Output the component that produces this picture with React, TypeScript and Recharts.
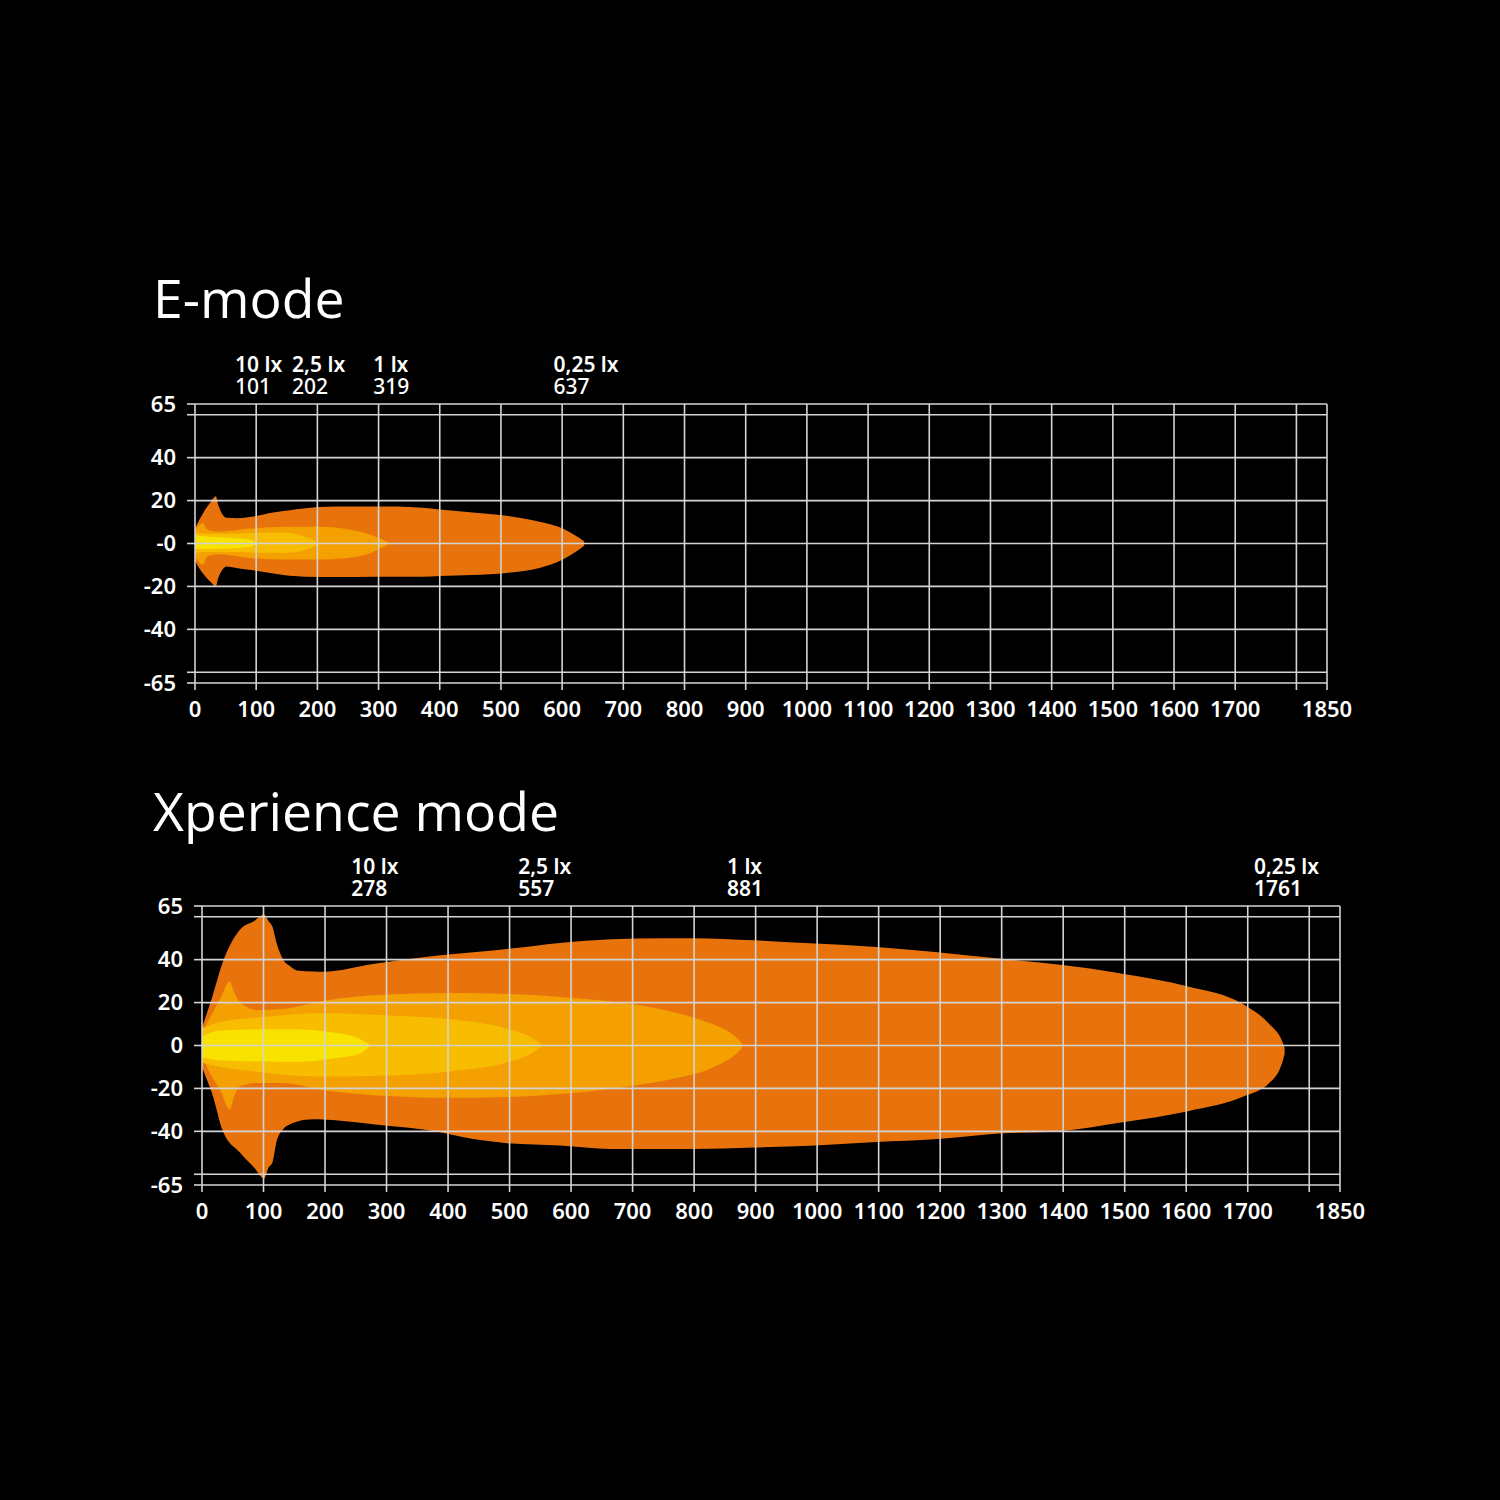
import React from "react"
import { ComposedChart, Area, XAxis, YAxis, CartesianGrid, ReferenceLine } from "recharts"

// each band row: distance (m), lower edge, upper edge (m)
type Band = [number, number, number][]

const xTicks = [0, 100, 200, 300, 400, 500, 600, 700, 800, 900, 1000, 1100, 1200, 1300, 1400, 1500, 1600, 1700, 1800, 1850]
const yTicks = [-65, -60, -40, -20, 0, 20, 40, 60, 65]
const unlabeledX = [1800]
const unlabeledY = [-60, 60]

const luxLabels = ["10 lx", "2,5 lx", "1 lx", "0,25 lx"]
const eModeReach = [101, 202, 319, 637]
const xpModeReach = [278, 557, 881, 1761]

// E-mode isolux bands
const eOuter: Band = [
    [0, -8, 7], [8, -12, 11.5], [16, -15, 15.5], [26, -18, 19.5], [34, -20, 22], [38, -16, 18],
    [43, -13, 14.5], [52, -10.7, 12], [70, -11.5, 11.8], [92, -12.4, 12.5], [128, -14, 14.5],
    [155, -15, 15.5], [204, -15.6, 17], [260, -15.6, 17.2], [331, -15.5, 17.2], [372, -15.5, 16.6],
    [400, -15.2, 15.8], [454, -14.7, 14.4], [509, -13.7, 12.9], [563, -11.4, 10.1], [601, -7.5, 7],
    [623, -3.7, 3.5], [636, -1, 1],
]
const e1lx: Band = [
    [0, -6, 6], [13, -9.8, 9.4], [20, -6, 6.5], [37, -5, 5.5], [92, -6.8, 7], [147, -7.5, 7.8],
    [201, -7.5, 7.8], [256, -6.5, 6.3], [288, -4.3, 4], [305, -2, 2], [316, -0.5, 0.5],
]
const e25lx: Band = [
    [0, -4.5, 5], [20, -4, 4.5], [60, -4, 4.5], [100, -4.3, 5], [150, -4.3, 5], [180, -3, 3.2],
    [195, -1.5, 1.5], [201, -0.3, 0.3],
]
const e10lx: Band = [
    [0, -2.6, 4], [30, -2.5, 3], [60, -2.3, 2.6], [85, -1.8, 2], [97, -0.8, 1], [100, -0.2, 0.2],
]

// Xperience mode isolux bands
const xOuter: Band = [
    [0, -10, 8.4], [8, -16, 15], [16, -22, 22], [34, -40, 39], [62, -50, 54], [85, -57, 58],
    [101, -62, 61], [108, -57, 58], [115, -54, 55], [121, -45, 48], [132, -39, 40], [143, -36.7, 37],
    [154, -35.5, 35], [181, -34.4, 34.5], [197, -34.5, 34.4], [278, -36.7, 38], [387, -40.4, 42],
    [441, -43.6, 43.5], [496, -45.5, 45], [582, -46.6, 47.8], [665, -48.2, 49.5], [748, -48.2, 50],
    [798, -48.2, 50], [898, -47.5, 49], [997, -46.6, 47.5], [1096, -45, 45.9], [1196, -43.6, 43.5],
    [1296, -41, 40.5], [1399, -39.8, 37.5], [1494, -35.9, 33.6], [1603, -30.6, 27.5], [1694, -23.7, 19],
    [1735, -17.5, 10], [1756, -8, 2], [1760, -4, -1],
]
const x1lx: Band = [
    [0, -5, 6], [15, -14, 14], [30, -21, 22], [45, -29.8, 29.8], [52, -24, 25], [62, -19, 20],
    [90, -17.5, 16.5], [130, -17.5, 17], [200, -21, 21], [300, -23.5, 23.8], [400, -24.4, 24.5],
    [500, -24, 24], [587, -22.5, 22.5], [706, -18.5, 19], [774, -15, 15], [820, -11.5, 11],
    [850, -7.5, 7.5], [868, -4, 4], [878, -1, 1],
]
const x25lx: Band = [
    [0, -8, 8], [30, -10, 11], [89, -12.2, 13], [201, -14.5, 15], [301, -14, 14], [400, -12.2, 12.4],
    [500, -7.5, 7.5], [530, -4.5, 4.5], [552, -0.5, 0.5],
]
const x10lx: Band = [
    [0, -5.4, 4], [26, -6.9, 6.9], [100, -7.5, 7.6], [151, -7.6, 7.6], [213, -6, 6], [257, -3.7, 3],
    [272, -0.5, 0.5],
]

const bandKeys = ["outer", "lx1", "lx25", "lx10"]
const bandColors = ["#E8730C", "#F3A000", "#F8BD00", "#F7E200"]

const mergeBands = (bands: Band[]) => {
    const rows = new Map<number, any>()
    bands.forEach((band, i) =>
        band.forEach(([x, lo, hi]) => {
            const row = rows.get(x) ?? { x }
            row[bandKeys[i]] = [lo, hi]
            rows.set(x, row)
        })
    )
    return [...rows.values()].sort((a, b) => a.x - b.x)
}

const eModeData = mergeBands([eOuter, e1lx, e25lx, e10lx])
const xpModeData = mergeBands([xOuter, x1lx, x25lx, x10lx])

const FONT = "'Noto Sans', 'DejaVu Sans', sans-serif"
const GRID = "#d4d4d4"
const TICK = { fill: "#fff", fontSize: 22, fontWeight: 600, fontFamily: FONT }

const LuxLabel = ({ viewBox, index, reach, numberWeight }: any) => {
    if (!viewBox) return null
    const left = viewBox.x - (luxLabels[index].length * 9.5) / 2 + 2
    const top = viewBox.y
    return (
        <g>
            <text x={left} y={top - 32} fill="#fff" fontSize={21} fontWeight={600} fontFamily={FONT}>
                {luxLabels[index]}
            </text>
            <text x={left} y={top - 10} fill="#fff" fontSize={21} fontWeight={numberWeight} fontFamily={FONT}>
                {reach[index]}
            </text>
        </g>
    )
}

type ModeProps = {
    title: string
    titleTop: number
    top: number
    margin: { top: number; right: number; bottom: number; left: number }
    data: any[]
    reach: number[]
    zeroLabel: string
    numberWeight: number
}

const ModeChart = ({ title, titleTop, top, margin, data, reach, zeroLabel, numberWeight }: ModeProps) => (
    <>
        <div
            style={{
                position: "absolute",
                left: 153,
                top: titleTop,
                color: "#fff",
                fontFamily: "'Open Sans', sans-serif",
                fontWeight: 400,
                fontSize: 53.5,
                lineHeight: "52px",
                whiteSpace: "nowrap",
            }}
        >
            {title}
        </div>
        <div style={{ position: "absolute", left: 0, top }}>
            <ComposedChart width={1500} height={420} data={data} margin={margin}>
                {bandKeys.map((k, i) => (
                    <Area
                        key={k}
                        type="monotone"
                        dataKey={(d: any) => d[k] ?? [null, null]}
                        fill={bandColors[i]}
                        fillOpacity={1}
                        stroke="none"
                        connectNulls
                        dot={false}
                        activeDot={false}
                        isAnimationActive={false}
                    />
                ))}
                <CartesianGrid stroke={GRID} strokeWidth={1.6} {...({ zIndex: 1000 } as any)} />
                {reach.map((r, i) => (
                    <ReferenceLine
                        key={r}
                        x={r}
                        stroke="none"
                        ifOverflow="visible"
                        label={(p: any) => (
                            <LuxLabel viewBox={p.viewBox} index={i} reach={reach} numberWeight={numberWeight} />
                        )}
                    />
                ))}
                <XAxis
                    dataKey="x"
                    type="number"
                    domain={[0, 1850]}
                    ticks={xTicks}
                    interval={0}
                    height={40}
                    axisLine={false}
                    tickLine={{ stroke: GRID, strokeWidth: 1.6 }}
                    tickSize={7}
                    tickMargin={11}
                    tickFormatter={(v: number) => (unlabeledX.includes(v) ? "" : String(v))}
                    tick={TICK}
                />
                <YAxis
                    type="number"
                    domain={[-65, 65]}
                    ticks={yTicks}
                    interval={0}
                    width={60}
                    axisLine={false}
                    tickLine={{ stroke: GRID, strokeWidth: 1.6 }}
                    tickSize={8}
                    tickMargin={11}
                    tickFormatter={(v: number) => (unlabeledY.includes(v) ? "" : v === 0 ? zeroLabel : String(v))}
                    tick={TICK}
                />
            </ComposedChart>
        </div>
    </>
)

export default function App() {
    return (
        <div
            style={{
                position: "absolute",
                left: 0,
                top: 0,
                width: 1500,
                height: 1500,
                background: "#000",
                overflow: "hidden",
            }}
        >
            <ModeChart
                title="E-mode"
                titleTop={272}
                top={330}
                margin={{ top: 74, right: 173, bottom: 27, left: 135 }}
                data={eModeData}
                reach={eModeReach}
                zeroLabel="-0"
                numberWeight={500}
            />
            <ModeChart
                title="Xperience mode"
                titleTop={785}
                top={830}
                margin={{ top: 76, right: 160, bottom: 25, left: 142 }}
                data={xpModeData}
                reach={xpModeReach}
                zeroLabel="0"
                numberWeight={600}
            />
        </div>
    )
}
